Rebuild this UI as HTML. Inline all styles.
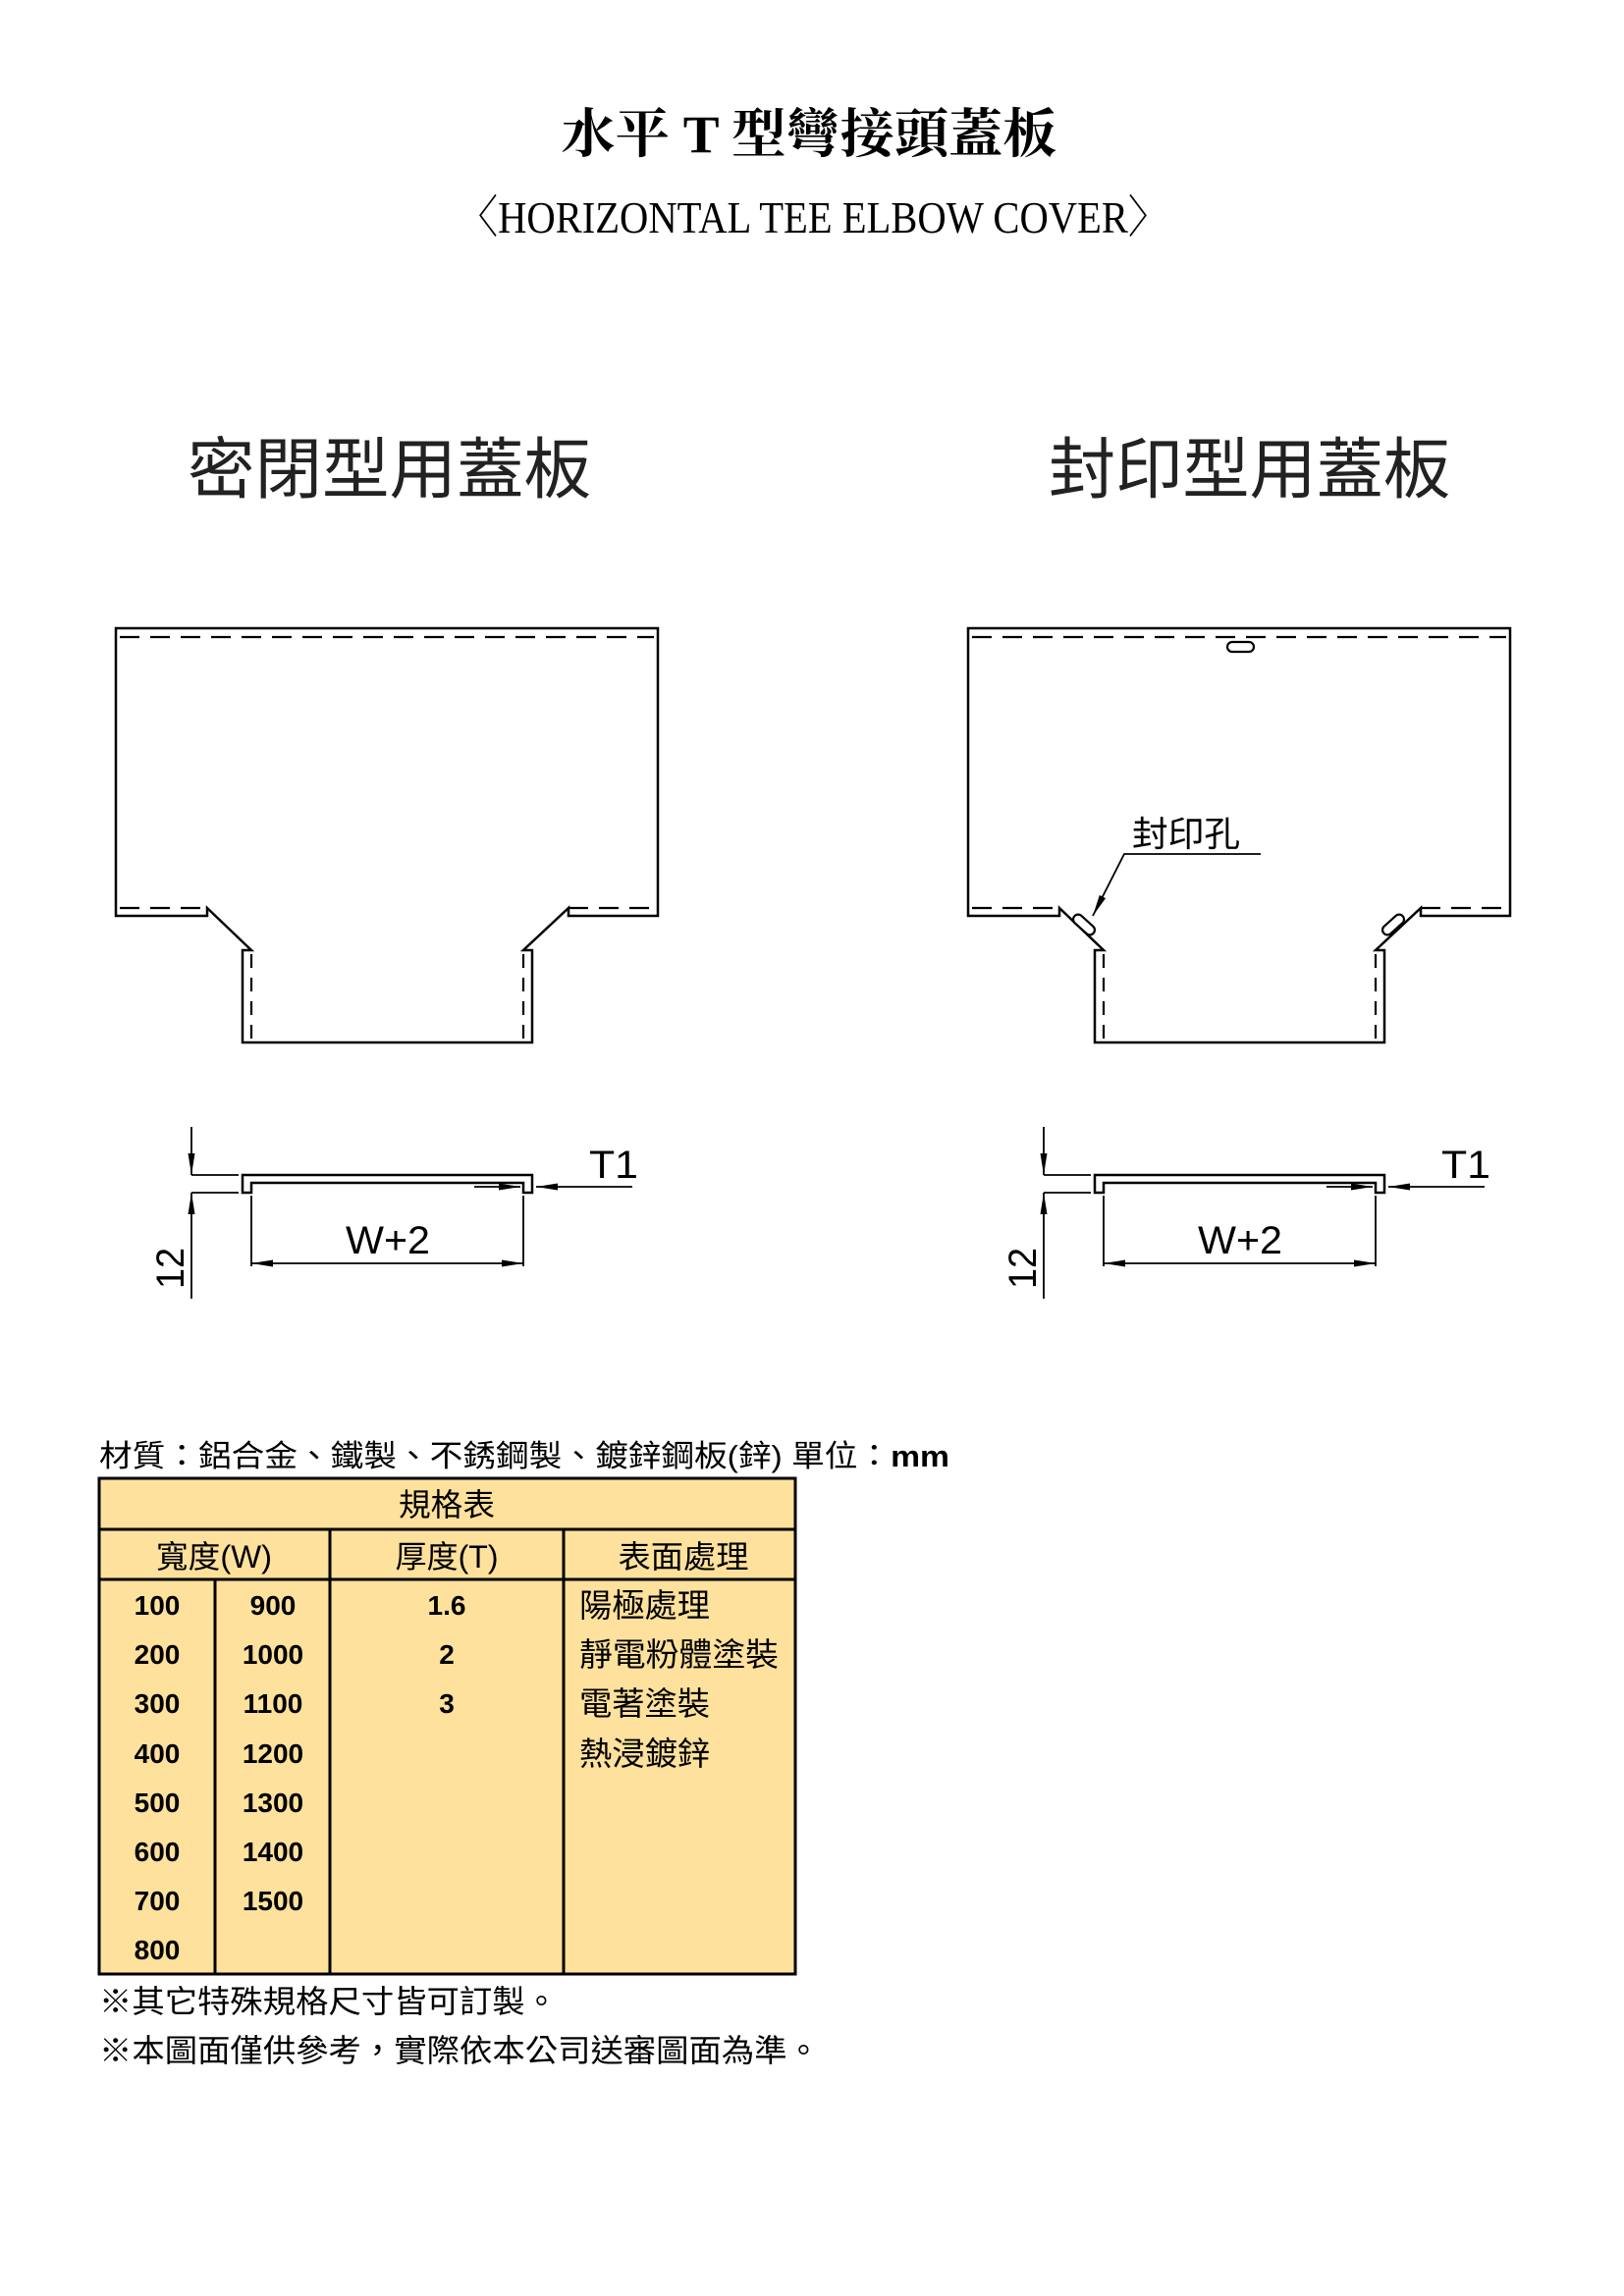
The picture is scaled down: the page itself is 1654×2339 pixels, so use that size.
<!DOCTYPE html>
<html><head><meta charset="utf-8"><style>
html,body{margin:0;padding:0;background:#fff}
svg{display:block}
.cjk{font-family:"Liberation Sans","Noto Sans CJK TC",sans-serif}
</style></head><body>
<svg width="1654" height="2339" viewBox="0 0 1654 2339" xmlns="http://www.w3.org/2000/svg">
<defs>
<marker id="a" markerWidth="22" markerHeight="8" refX="22" refY="4" orient="auto" markerUnits="userSpaceOnUse"><path d="M0,0.5 L22,4 L0,7.5 Z" fill="#000"/></marker>
</defs>
<text x="824" y="155" text-anchor="middle" font-family="'Liberation Serif','Noto Serif CJK SC',serif" font-size="54" font-weight="bold" textLength="505" lengthAdjust="spacingAndGlyphs">水平 T 型彎接頭蓋板</text>
<text x="828" y="237" text-anchor="middle" font-family="'Liberation Serif','Noto Serif CJK SC',serif" font-size="46" textLength="723" lengthAdjust="spacingAndGlyphs">〈HORIZONTAL TEE ELBOW COVER〉</text>

<text x="191" y="502" class="cjk" font-size="68" fill="#222" textLength="411" lengthAdjust="spacingAndGlyphs">密閉型用蓋板</text>
<text x="1068" y="502" class="cjk" font-size="68" fill="#222" textLength="409" lengthAdjust="spacingAndGlyphs">封印型用蓋板</text>

<g id="L" fill="none" stroke="#000" stroke-width="2.5">
<path d="M118,640 H670 V933 H579 V925 L533,968 H542 V1062 H247 V968 H256 L211,925 V933 H118 Z"/>
<g stroke-dasharray="20 11" stroke-width="2.2">
<path d="M122,649 H666"/>
<path d="M122,925 H211 M579,925 H666"/>
</g>
<g stroke-dasharray="14 10" stroke-width="2.2">
<path d="M256,972 V1060 M533,972 V1060"/>
</g>
<path d="M247,1215 V1197 H542 V1215 H533 V1205 H256 V1215 Z"/>
<g stroke-width="1.8">
<path d="M195,1197 H243 M195,1215 H243"/>
<path d="M195,1148 V1197" marker-end="url(#a)"/>
<path d="M195,1323 V1215" marker-end="url(#a)"/>
<path d="M256,1218 V1290 M533,1218 V1290"/>
<path d="M395,1287 H256" marker-end="url(#a)"/>
<path d="M395,1287 H533" marker-end="url(#a)"/>
<path d="M644,1209 H546" marker-end="url(#a)"/>
<path d="M483,1209 H530" marker-end="url(#a)"/>
</g>
</g>
<g font-family="'Liberation Sans',sans-serif" font-size="40">
<text x="352" y="1277" textLength="86" lengthAdjust="spacingAndGlyphs">W+2</text>
<text x="600" y="1200" textLength="50" lengthAdjust="spacingAndGlyphs">T1</text>
<text transform="translate(187,1313) rotate(-90)" textLength="42" lengthAdjust="spacingAndGlyphs">12</text>
</g>

<use href="#L" transform="translate(868,0)"/>
<g font-family="'Liberation Sans',sans-serif" font-size="40" transform="translate(868,0)">
<text x="352" y="1277" textLength="86" lengthAdjust="spacingAndGlyphs">W+2</text>
<text x="600" y="1200" textLength="50" lengthAdjust="spacingAndGlyphs">T1</text>
<text transform="translate(187,1313) rotate(-90)" textLength="42" lengthAdjust="spacingAndGlyphs">12</text>
</g>
<g fill="#fff" stroke="#000" stroke-width="2.2">
<rect x="1250" y="654" width="27" height="10" rx="5"/>
<rect x="-13" y="-5" width="26" height="10" rx="5" transform="translate(1104,942) rotate(42)"/>
<rect x="-13" y="-5" width="26" height="10" rx="5" transform="translate(1419,942) rotate(-42)"/>
</g>
<g fill="none" stroke="#000" stroke-width="1.8">
<path d="M1284,870 H1145 L1113,933" marker-end="url(#a)"/>
</g>
<text x="1153" y="862" class="cjk" font-size="36" textLength="110" lengthAdjust="spacingAndGlyphs">封印孔</text>

<text x="101" y="1494" class="cjk" font-size="31" textLength="866" lengthAdjust="spacingAndGlyphs">材質：鋁合金、鐵製、不銹鋼製、鍍鋅鋼板(鋅)  單位：<tspan font-weight="bold">mm</tspan></text>

<rect x="101" y="1506" width="709" height="505" fill="#FDE19C" stroke="#000" stroke-width="3"/>
<g stroke="#000" stroke-width="3">
<path d="M101,1558 H810 M101,1609 H810 M336,1558 V2011 M574,1558 V2011 M219,1609 V2011"/>
</g>
<g class="cjk" font-size="32" text-anchor="middle">
<text x="455" y="1544" textLength="98" lengthAdjust="spacingAndGlyphs">規格表</text>
<text x="218" y="1597" textLength="118" lengthAdjust="spacingAndGlyphs">寬度(W)</text>
<text x="455" y="1597" textLength="105" lengthAdjust="spacingAndGlyphs">厚度(T)</text>
<text x="696" y="1597" textLength="133" lengthAdjust="spacingAndGlyphs">表面處理</text>
</g>
<g font-family="'Liberation Sans',sans-serif" font-weight="bold" font-size="28" text-anchor="middle">
<text x="160" y="1645">100</text><text x="278" y="1645">900</text><text x="455" y="1645">1.6</text>
<text x="160" y="1695">200</text><text x="278" y="1695">1000</text><text x="455" y="1695">2</text>
<text x="160" y="1745">300</text><text x="278" y="1745">1100</text><text x="455" y="1745">3</text>
<text x="160" y="1796">400</text><text x="278" y="1796">1200</text>
<text x="160" y="1846">500</text><text x="278" y="1846">1300</text>
<text x="160" y="1896">600</text><text x="278" y="1896">1400</text>
<text x="160" y="1946">700</text><text x="278" y="1946">1500</text>
<text x="160" y="1996">800</text>
</g>
<g class="cjk" font-size="33">
<text x="590" y="1647" textLength="133" lengthAdjust="spacingAndGlyphs">陽極處理</text>
<text x="590" y="1697" textLength="203" lengthAdjust="spacingAndGlyphs">靜電粉體塗裝</text>
<text x="590" y="1747" textLength="133" lengthAdjust="spacingAndGlyphs">電著塗裝</text>
<text x="590" y="1798" textLength="133" lengthAdjust="spacingAndGlyphs">熱浸鍍鋅</text>
</g>
<g class="cjk" font-size="32">
<text x="101" y="2050" textLength="467" lengthAdjust="spacingAndGlyphs">※其它特殊規格尺寸皆可訂製。</text>
<text x="101" y="2100" textLength="734" lengthAdjust="spacingAndGlyphs">※本圖面僅供參考，實際依本公司送審圖面為準。</text>
</g>
</svg>
</body></html>
